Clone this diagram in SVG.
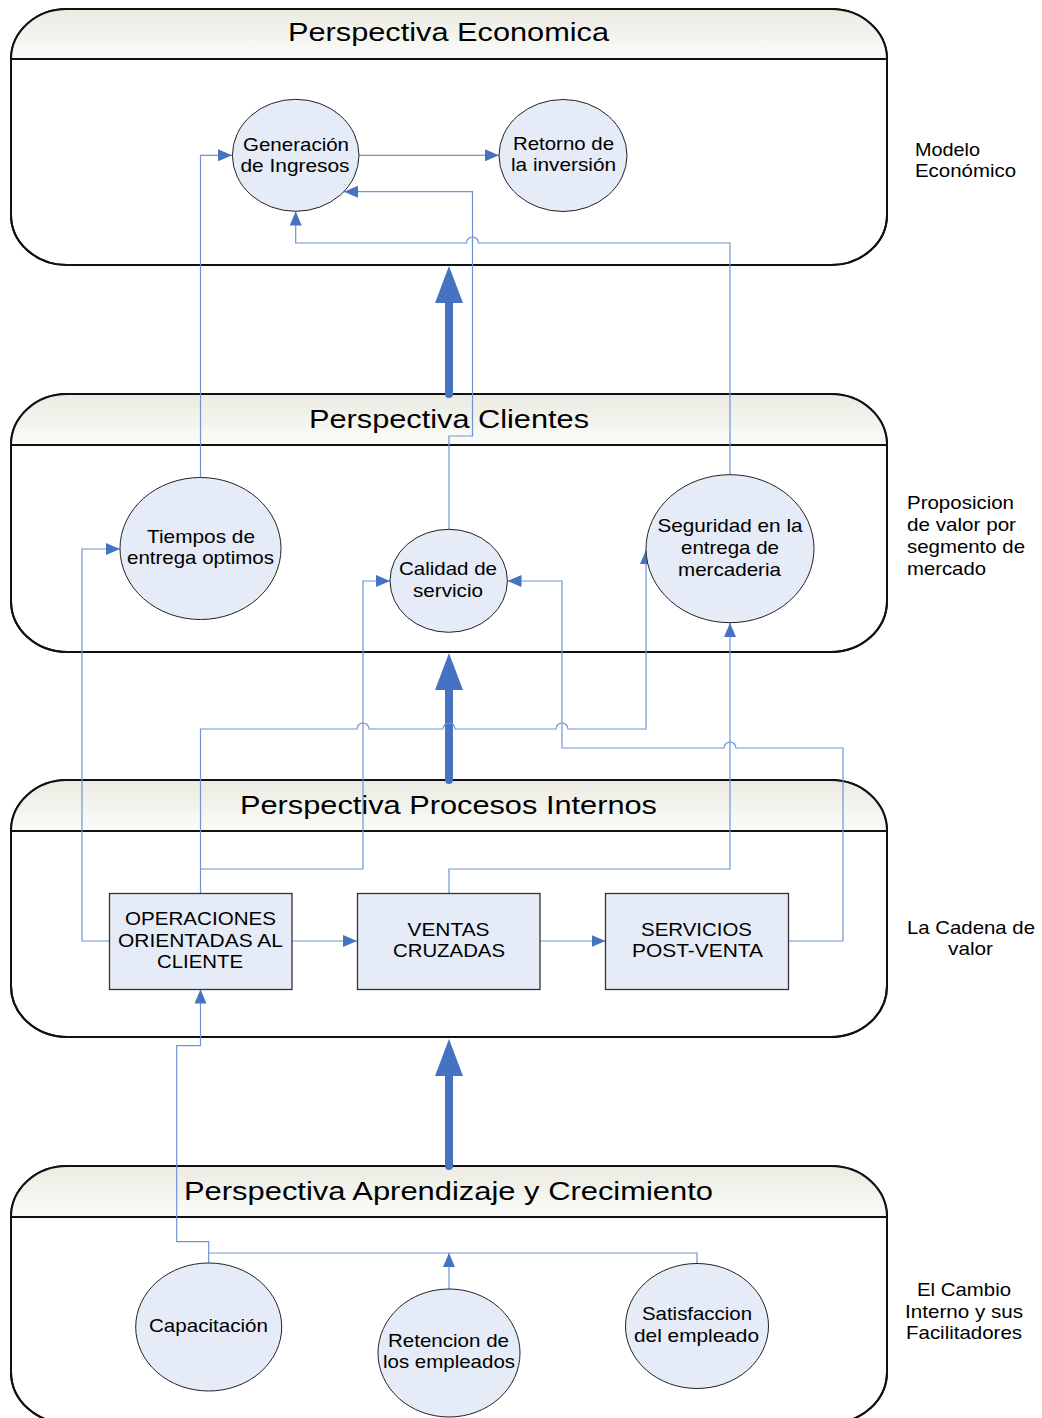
<svg xmlns="http://www.w3.org/2000/svg" width="1042" height="1418" viewBox="0 0 1042 1418">
  <style>
    text { font-family: "Liberation Sans", Arial, sans-serif; fill: #000; }
    .title { font-size: 26px; text-anchor: middle; }
    .lbl { font-size: 18.5px; text-anchor: middle; }
    .side { font-size: 18.5px; }
    .sidec { font-size: 18.5px; text-anchor: middle; }
    .panel { fill: #fff; stroke: #111; stroke-width: 2; }
    .head { fill: url(#headFill); stroke: none; }
    .sep { stroke: #111; stroke-width: 2; fill: none; }
    .ell { fill: #e5ebf7; stroke: #222; stroke-width: 1; }
    .box { fill: #e5ebf7; stroke: #333; stroke-width: 1.3; }
    .link { fill: none; stroke: #6f94d0; stroke-width: 1.2; }
    .arrowed { marker-end: url(#tip); }
    .big { fill: none; stroke: #4673c1; stroke-width: 8; stroke-linecap: round; }
    .bighead { fill: #4673c1; }
  </style>
  <defs>
    <linearGradient id="headFill" x1="0" y1="0" x2="0" y2="1">
      <stop offset="0" stop-color="#ebebe2"/>
      <stop offset="1" stop-color="#fbfbf9"/>
    </linearGradient>
    <marker id="tip" markerUnits="userSpaceOnUse" markerWidth="14" markerHeight="12" refX="14" refY="6" orient="auto">
      <path d="M0,0 L14,6 L0,12 Z" fill="#4673c1"/>
    </marker>
  </defs>

  <!-- swimlane panels -->
  <g id="panel-economica">
    <rect class="panel" x="11" y="9" width="876" height="256" rx="56" ry="50"/>
    <path class="head" d="M11,59 A56,50 0 0 1 67,9 H831 A56,50 0 0 1 887,59 Z"/>
    <rect x="11" y="9" width="876" height="256" rx="56" ry="50" fill="none" stroke="#111" stroke-width="2"/>
    <path class="sep" d="M11,59 H887"/>
    <text class="title" x="448.5" y="40.5" textLength="321" lengthAdjust="spacingAndGlyphs">Perspectiva Economica</text>
  </g>
  <g id="panel-clientes">
    <rect class="panel" x="11" y="394" width="876" height="258" rx="56" ry="51"/>
    <path class="head" d="M11,445 A56,51 0 0 1 67,394 H831 A56,51 0 0 1 887,445 Z"/>
    <rect x="11" y="394" width="876" height="258" rx="56" ry="51" fill="none" stroke="#111" stroke-width="2"/>
    <path class="sep" d="M11,445 H887"/>
    <text class="title" x="449" y="427.5" textLength="280" lengthAdjust="spacingAndGlyphs">Perspectiva Clientes</text>
  </g>
  <g id="panel-procesos">
    <rect class="panel" x="11" y="780" width="876" height="257" rx="56" ry="51"/>
    <path class="head" d="M11,831 A56,51 0 0 1 67,780 H831 A56,51 0 0 1 887,831 Z"/>
    <rect x="11" y="780" width="876" height="257" rx="56" ry="51" fill="none" stroke="#111" stroke-width="2"/>
    <path class="sep" d="M11,831 H887"/>
    <text class="title" x="448.5" y="813.5" textLength="417" lengthAdjust="spacingAndGlyphs">Perspectiva Procesos Internos</text>
  </g>
  <g id="panel-aprendizaje">
    <rect class="panel" x="11" y="1166" width="876" height="257" rx="56" ry="51"/>
    <path class="head" d="M11,1217 A56,51 0 0 1 67,1166 H831 A56,51 0 0 1 887,1217 Z"/>
    <rect x="11" y="1166" width="876" height="257" rx="56" ry="51" fill="none" stroke="#111" stroke-width="2"/>
    <path class="sep" d="M11,1217 H887"/>
    <text class="title" x="448.5" y="1199.5" textLength="529" lengthAdjust="spacingAndGlyphs">Perspectiva Aprendizaje y Crecimiento</text>
  </g>

  <!-- side captions -->
  <g id="caption-modelo">
    <text class="side" x="915" y="156" textLength="65" lengthAdjust="spacingAndGlyphs">Modelo</text>
    <text class="side" x="915" y="177" textLength="101" lengthAdjust="spacingAndGlyphs">Económico</text>
  </g>
  <g id="caption-proposicion">
    <text class="side" x="907" y="509" textLength="107" lengthAdjust="spacingAndGlyphs">Proposicion</text>
    <text class="side" x="907" y="531" textLength="109" lengthAdjust="spacingAndGlyphs">de valor por</text>
    <text class="side" x="907" y="553" textLength="118" lengthAdjust="spacingAndGlyphs">segmento de</text>
    <text class="side" x="907" y="574.5" textLength="79" lengthAdjust="spacingAndGlyphs">mercado</text>
  </g>
  <g id="caption-cadena">
    <text class="sidec" x="971" y="934" textLength="128" lengthAdjust="spacingAndGlyphs">La Cadena de</text>
    <text class="sidec" x="970.5" y="955" textLength="45" lengthAdjust="spacingAndGlyphs">valor</text>
  </g>
  <g id="caption-cambio">
    <text class="sidec" x="964" y="1296" textLength="94" lengthAdjust="spacingAndGlyphs">El Cambio</text>
    <text class="sidec" x="964" y="1317.5" textLength="118" lengthAdjust="spacingAndGlyphs">Interno y sus</text>
    <text class="sidec" x="964" y="1339" textLength="116" lengthAdjust="spacingAndGlyphs">Facilitadores</text>
  </g>

  <!-- thick arrows between perspectives -->
  <g id="flow-arrows">
    <path class="big" d="M449,394 V300"/>
    <path class="bighead" d="M435,303 L449,266 L463,303 Z"/>
    <path class="big" d="M449,780 V686"/>
    <path class="bighead" d="M435,690 L449,653 L463,690 Z"/>
    <path class="big" d="M449,1166 V1072"/>
    <path class="bighead" d="M435,1076 L449,1039 L463,1076 Z"/>
  </g>

  <!-- connectors -->
  <g id="connectors">
    <path class="link arrowed" d="M200.5,478 V155.3 H232"/>
    <path class="link arrowed" d="M359,155.3 H499"/>
    <path class="link arrowed" d="M449,529.5 V436 H472.5 V191.7 H344"/>
    <path class="link arrowed" d="M730,475 V243 H478.5 A6,6 0 0 0 466.5,243 H295.7 V211.5"/>
    <path class="link arrowed" d="M109,941 H82 V549 H120"/>
    <path class="link arrowed" d="M200.5,893 V869 H363 V581 H390"/>
    <path class="link arrowed" d="M200.5,869 V729 H357 A6,6 0 0 1 369,729 H443 A6,6 0 0 1 455,729 H556 A6,6 0 0 1 568,729 H646 V550"/>
    <path class="link arrowed" d="M789,941 H843 V748 H736 A6,6 0 0 0 724,748 H562 V581 H507.5"/>
    <path class="link arrowed" d="M449,893 V869 H730 V623"/>
    <path class="link arrowed" d="M292,941 H357"/>
    <path class="link arrowed" d="M540,941 H605.5"/>
    <path class="link arrowed" d="M208.7,1263 V1241.7 H176.7 V1045.7 H200.5 V989.5"/>
    <path class="link" d="M697,1263.5 V1253 H208.7"/>
    <path class="link arrowed" d="M449,1289 V1253"/>
  </g>

  <!-- economic perspective nodes -->
  <g id="node-generacion">
    <ellipse class="ell" cx="295.7" cy="155.3" rx="63.3" ry="56"/>
    <text class="lbl" x="296" y="151" textLength="106" lengthAdjust="spacingAndGlyphs">Generación</text>
    <text class="lbl" x="295" y="172" textLength="109" lengthAdjust="spacingAndGlyphs">de Ingresos</text>
  </g>
  <g id="node-retorno">
    <ellipse class="ell" cx="563" cy="155.5" rx="64" ry="56"/>
    <text class="lbl" x="563.5" y="150" textLength="101" lengthAdjust="spacingAndGlyphs">Retorno de</text>
    <text class="lbl" x="563.5" y="171" textLength="105" lengthAdjust="spacingAndGlyphs">la inversión</text>
  </g>

  <!-- customer perspective nodes -->
  <g id="node-tiempos">
    <ellipse class="ell" cx="200.5" cy="548.5" rx="80.5" ry="71"/>
    <text class="lbl" x="201" y="543" textLength="108" lengthAdjust="spacingAndGlyphs">Tiempos de</text>
    <text class="lbl" x="200.5" y="564" textLength="147" lengthAdjust="spacingAndGlyphs">entrega optimos</text>
  </g>
  <g id="node-calidad">
    <ellipse class="ell" cx="448.7" cy="580.8" rx="58.7" ry="51.5"/>
    <text class="lbl" x="448" y="575" textLength="98" lengthAdjust="spacingAndGlyphs">Calidad de</text>
    <text class="lbl" x="448" y="597" textLength="70" lengthAdjust="spacingAndGlyphs">servicio</text>
  </g>
  <g id="node-seguridad">
    <ellipse class="ell" cx="730" cy="548.7" rx="84" ry="74"/>
    <text class="lbl" x="730" y="532" textLength="145" lengthAdjust="spacingAndGlyphs">Seguridad en la</text>
    <text class="lbl" x="730" y="554" textLength="98" lengthAdjust="spacingAndGlyphs">entrega de</text>
    <text class="lbl" x="729.5" y="576" textLength="103" lengthAdjust="spacingAndGlyphs">mercaderia</text>
  </g>

  <!-- internal process nodes -->
  <g id="node-operaciones">
    <rect class="box" x="109.5" y="893.5" width="182.5" height="96"/>
    <text class="lbl" x="200.5" y="925" textLength="151" lengthAdjust="spacingAndGlyphs">OPERACIONES</text>
    <text class="lbl" x="200.5" y="946.5" textLength="165" lengthAdjust="spacingAndGlyphs">ORIENTADAS AL</text>
    <text class="lbl" x="200" y="968" textLength="86" lengthAdjust="spacingAndGlyphs">CLIENTE</text>
  </g>
  <g id="node-ventas">
    <rect class="box" x="357.5" y="893.5" width="182.5" height="96"/>
    <text class="lbl" x="448.5" y="936" textLength="82" lengthAdjust="spacingAndGlyphs">VENTAS</text>
    <text class="lbl" x="449" y="957" textLength="112" lengthAdjust="spacingAndGlyphs">CRUZADAS</text>
  </g>
  <g id="node-servicios">
    <rect class="box" x="605.5" y="893.5" width="183" height="96"/>
    <text class="lbl" x="696.5" y="936" textLength="111" lengthAdjust="spacingAndGlyphs">SERVICIOS</text>
    <text class="lbl" x="697.5" y="957" textLength="131" lengthAdjust="spacingAndGlyphs">POST-VENTA</text>
  </g>

  <!-- learning and growth nodes -->
  <g id="node-capacitacion">
    <ellipse class="ell" cx="208.7" cy="1327" rx="73" ry="64"/>
    <text class="lbl" x="208.5" y="1332" textLength="119" lengthAdjust="spacingAndGlyphs">Capacitación</text>
  </g>
  <g id="node-retencion">
    <ellipse class="ell" cx="449" cy="1353" rx="71" ry="64"/>
    <text class="lbl" x="448.5" y="1347" textLength="121" lengthAdjust="spacingAndGlyphs">Retencion de</text>
    <text class="lbl" x="449" y="1368" textLength="132" lengthAdjust="spacingAndGlyphs">los empleados</text>
  </g>
  <g id="node-satisfaccion">
    <ellipse class="ell" cx="697" cy="1326" rx="71.5" ry="62.5"/>
    <text class="lbl" x="697" y="1320" textLength="110" lengthAdjust="spacingAndGlyphs">Satisfaccion</text>
    <text class="lbl" x="696.5" y="1342" textLength="125" lengthAdjust="spacingAndGlyphs">del empleado</text>
  </g>
</svg>
